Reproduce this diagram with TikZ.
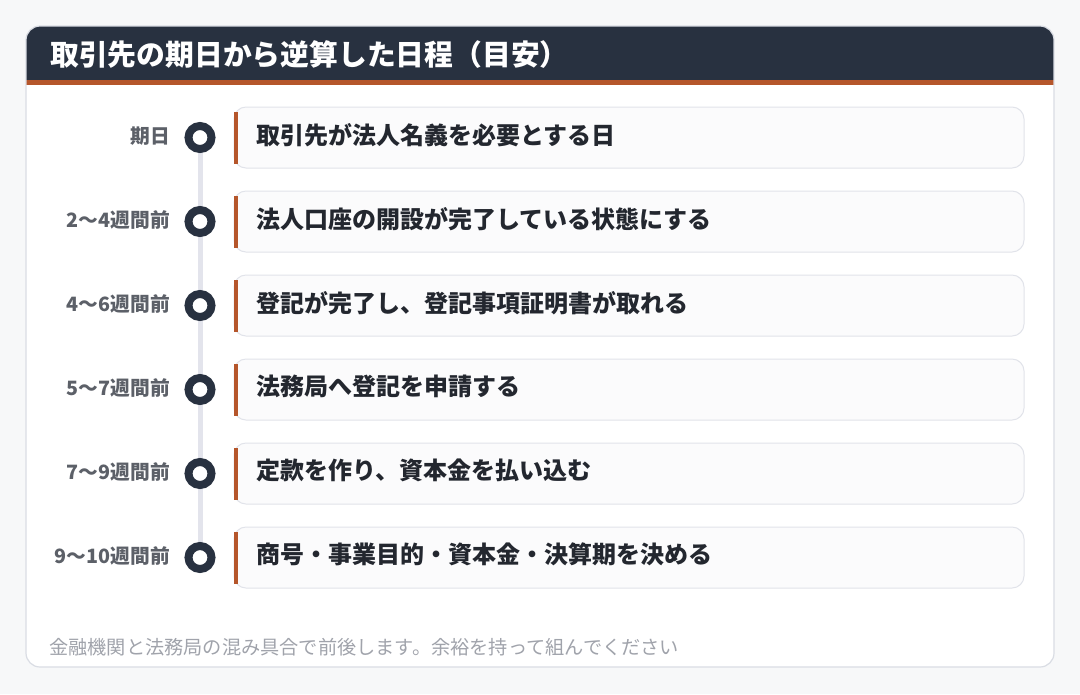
\documentclass[tikz,border=0pt]{standalone}
\usepackage{fontspec}
\setmainfont{Noto Sans CJK JP}
\usetikzlibrary{calc}
\definecolor{pagebg}{HTML}{F7F8F9}
\definecolor{cardborder}{HTML}{DADDE4}
\definecolor{headdark}{HTML}{283140}
\definecolor{accent}{HTML}{B5562B}
\definecolor{boxborder}{HTML}{E1E3EA}
\definecolor{boxfill}{HTML}{FBFBFC}
\definecolor{boxtext}{HTML}{23272F}
\definecolor{labelgray}{HTML}{5C6068}
\definecolor{footgray}{HTML}{A0A3AB}
\definecolor{linegray}{HTML}{E3E4EC}
\begin{document}
\begin{tikzpicture}[x=0.75pt,y=-0.75pt,
  stepbox/.style={draw=boxborder, line width=0.75pt, fill=boxfill, rounded corners=9pt,
    minimum height=45.75pt, text width=559.5pt, inner xsep=16.5pt, align=left,
    anchor=west, font=\bfseries\fontsize{18}{20}\selectfont, text=boxtext},
  dot/.style={circle, draw=headdark, line width=6pt, fill=white, minimum size=17.25pt, inner sep=0pt},
  lbl/.style={anchor=east, font=\bfseries\fontsize{14.8}{17}\selectfont, text=labelgray, inner sep=0pt},
  timeline/.style={draw=linegray, line width=3.75pt},
  bar/.style={fill=accent}]
\useasboundingbox (0,0) rectangle (1080,694);
\fill[pagebg] (0,0) rectangle (1080,694);
% card
\path[fill=white] (26,26) [rounded corners=10.5pt] rectangle (1054,667);
\begin{scope}
  \clip[rounded corners=10.5pt] (26,26) rectangle (1054,667);
  \fill[headdark] (26,26) rectangle (1054,80);
  \fill[accent] (26,80) rectangle (1054,85);
\end{scope}
\draw[cardborder, line width=0.9pt, rounded corners=10.5pt] (26,26) rectangle (1054,667);
\node[anchor=west, text=white, font=\bfseries\fontsize{21.6}{24}\selectfont, inner sep=0pt] (title) at (50,55) {取引先の期日から逆算した日程（目安）};
% timeline
\foreach \i in {1,...,6} { \coordinate (t\i) at (200,{137.5+84*(\i-1)}); }
\draw[timeline] (t1) -- (t6);
\foreach \i/\l/\t in {1/期日/取引先が法人名義を必要とする日,
  2/2〜4週間前/法人口座の開設が完了している状態にする,
  3/4〜6週間前/登記が完了し、登記事項証明書が取れる,
  4/5〜7週間前/法務局へ登記を申請する,
  5/7〜9週間前/定款を作り、資本金を払い込む,
  6/9〜10週間前/商号・事業目的・資本金・決算期を決める} {
  \node[dot] (d\i) at (t\i) {};
  \node[lbl] (l\i) at ($(t\i)+(-30,-1.5)$) {\l};
  \node[stepbox] (b\i) at ($(t\i)+(33.5,0)$) {\raisebox{6pt}{\t}};
  \fill[bar] ($(b\i.south west)+(0,-5)$) rectangle ($(b\i.north west)+(4,5)$);
}
\node[anchor=west, text=footgray, font=\fontsize{14.4}{16}\selectfont, inner sep=0pt] (foot) at (49,647) {金融機関と法務局の混み具合で前後します。余裕を持って組んでください};
\end{tikzpicture}
\end{document}
